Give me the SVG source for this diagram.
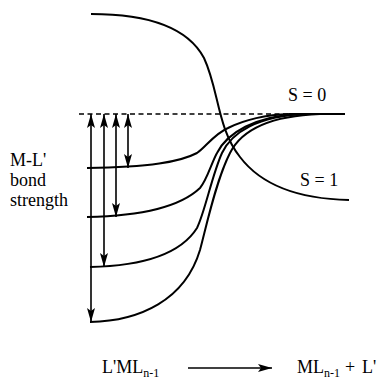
<svg xmlns="http://www.w3.org/2000/svg" width="390" height="377" viewBox="0 0 390 377">
<style>
.c{fill:none;stroke:#000;stroke-width:2}
.l{fill:none;stroke:#000;stroke-width:1.6}
text{font-family:"Liberation Serif","Times New Roman","DejaVu Serif",serif;font-size:18px;fill:#000}
.s{font-size:12px}
</style>
<defs>
<marker id="ah" viewBox="0 0 14 8" refX="14" refY="4" markerWidth="14" markerHeight="8" markerUnits="userSpaceOnUse" orient="auto-start-reverse">
<path d="M0,0 L14,4 L0,8 L3,4 Z" fill="#000"/>
</marker>
</defs>
<g id="baseline">
<line x1="79" y1="114" x2="345" y2="114" stroke="#000" stroke-width="1.6" stroke-dasharray="5,3.5"/>
</g>
<g id="curves">
<path id="s1" class="c" d="M91,14 C150,14 188,28 204,58 C219,90 217,128 240,157 C262,186 300,199 349,200"/>
<path id="lv1" class="c" d="M87,168 C150,167 180,162 197,153 C205,148 214,134 228,128 C242,121 262,115 290,114 L345,114"/>
<path id="lv2" class="c" d="M87,217 C140,216 180,207 200,188 C207,180 211,164 217,153 C227,133 255,116 300,114"/>
<path id="lv3" class="c" d="M90,267 C140,266 180,255 197,228 C205,212 212,175 222,153 C232,132 258,116 305,114"/>
<path id="lv4" class="c" d="M90,322 C140,321 185,300 200,250 C206,228 216,180 230,153 C240,133 265,116 320,114"/>
</g>
<g id="arrows">
<line class="l" x1="128" y1="114" x2="128" y2="168" marker-start="url(#ah)" marker-end="url(#ah)"/>
<line class="l" x1="116" y1="114" x2="116" y2="217" marker-start="url(#ah)" marker-end="url(#ah)"/>
<line class="l" x1="104" y1="114" x2="104" y2="267" marker-start="url(#ah)" marker-end="url(#ah)"/>
<line class="l" x1="91" y1="114" x2="91" y2="322" marker-start="url(#ah)" marker-end="url(#ah)"/>
<line class="l" x1="188" y1="368" x2="272" y2="368" marker-end="url(#ah)"/>
</g>
<g id="labels">
<text x="288" y="101">S = 0</text>
<text x="300" y="186">S = 1</text>
<text x="10" y="166">M-L'</text>
<text x="10" y="186">bond</text>
<text x="10" y="206">strength</text>
<text x="102" y="373">L'ML<tspan class="s" dy="4">n-1</tspan></text>
<text x="297" y="373">ML<tspan class="s" dy="4">n-1</tspan></text>
<text x="345" y="373">+</text>
<text x="362" y="373">L'</text>
</g>
</svg>
